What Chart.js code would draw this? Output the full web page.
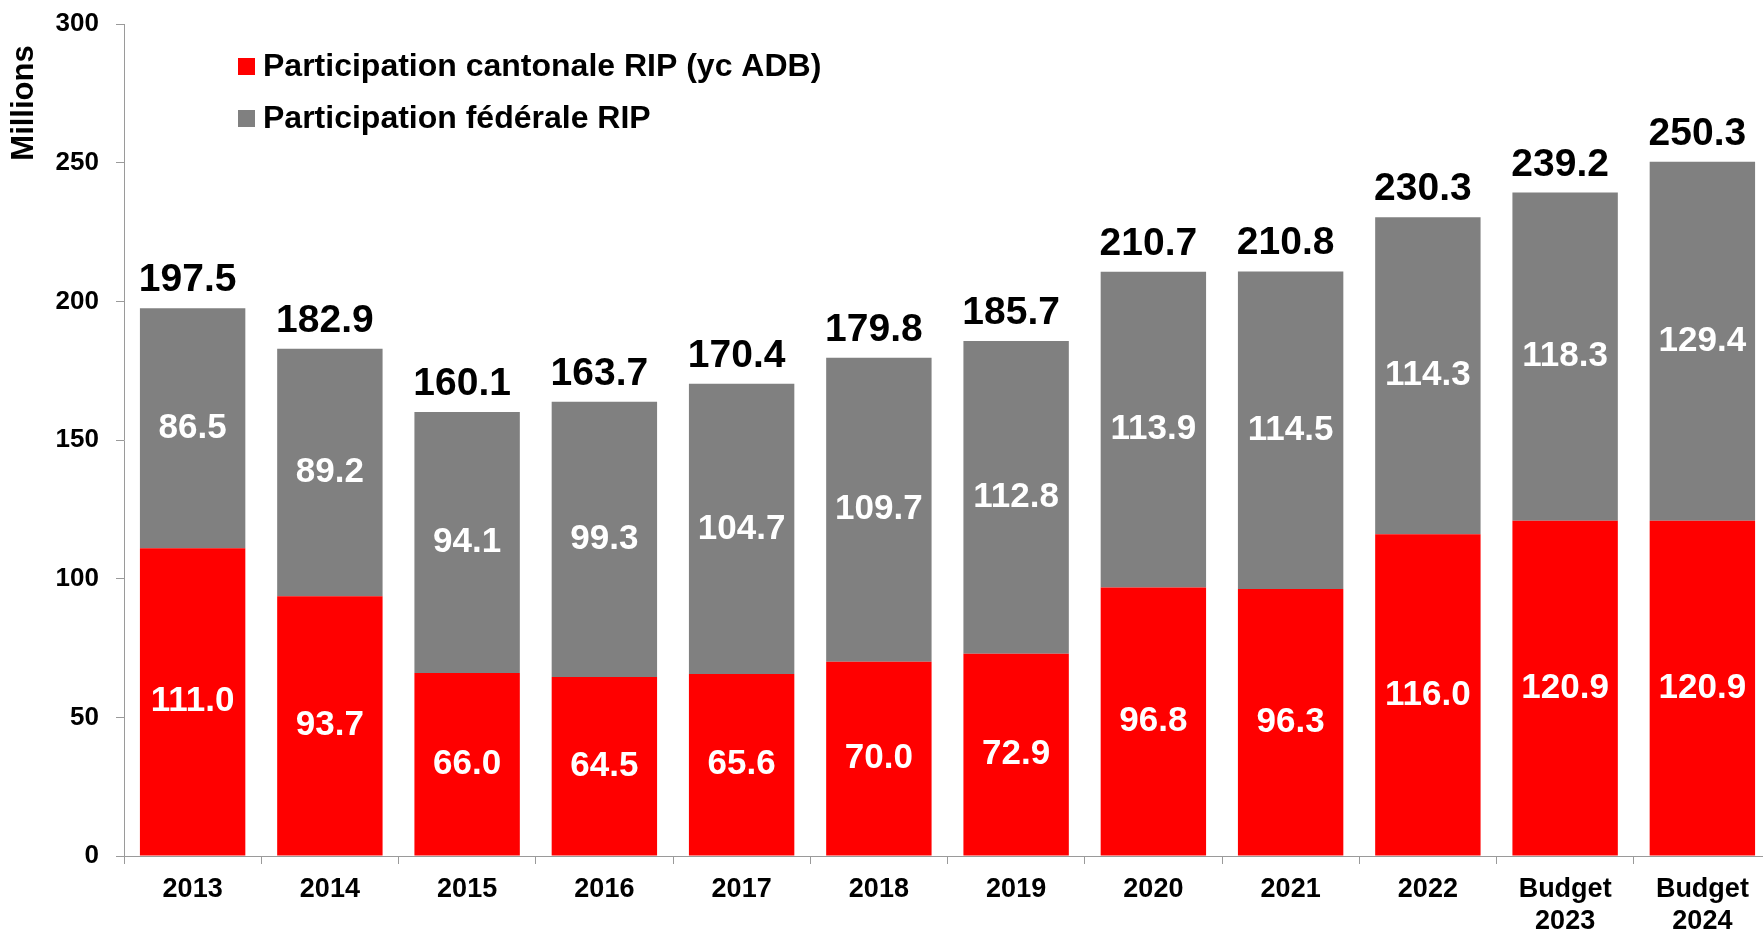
<!DOCTYPE html>
<html><head><meta charset="utf-8">
<script src="https://cdn.jsdelivr.net/npm/chart.js@4/dist/chart.umd.min.js"></script>
<style>
html,body{margin:0;padding:0;background:#fff;overflow:hidden;width:1763px;height:930px;}
#wrap{position:absolute;left:0;top:0;width:1800px;height:930px;}
canvas{display:block;}
</style></head><body>
<div id="wrap"><canvas id="c" width="1800" height="930"></canvas></div>
<script>
const categories = ["2013","2014","2015","2016","2017","2018","2019","2020","2021","2022",["Budget","2023"],["Budget","2024"]];
const seriesNames = ["Participation cantonale RIP (yc ADB)","Participation fédérale RIP"];
const seriesColors = ["#FF0000","#808080"];
const cantonale = [111.0,93.7,66.0,64.5,65.6,70.0,72.9,96.8,96.3,116.0,120.9,120.9];
const federale = [86.5,89.2,94.1,99.3,104.7,109.7,112.8,113.9,114.5,114.3,118.3,129.4];
const totals = [197.5,182.9,160.1,163.7,170.4,179.8,185.7,210.7,210.8,230.3,239.2,250.3];
const yTickValues = [0,50,100,150,200,250,300];
const yAxisTitle = "Millions";

const FONT = "'Liberation Sans', Arial, sans-serif";
const AXIS = "#9a9a9a";

const labelPlugin = {
  id: 'labelsAndLegend',
  afterDatasetsDraw(chart) {
    const ctx = chart.ctx;
    ctx.save();
    chart.data.datasets.forEach((ds, i) => {
      const meta = chart.getDatasetMeta(i);
      meta.data.forEach((el, j) => {
        const p = el.getProps(['x','y','base'], true);
        ctx.font = "bold 35px " + FONT;
        ctx.fillStyle = "#ffffff";
        ctx.textAlign = "center";
        ctx.textBaseline = "middle";
        ctx.fillText(ds.data[j].toFixed(1), p.x, (p.y + p.base) / 2);
      });
    });
    const topMeta = chart.getDatasetMeta(chart.data.datasets.length - 1);
    topMeta.data.forEach((el, j) => {
      const p = el.getProps(['x','y'], true);
      ctx.font = "bold 39px " + FONT;
      ctx.fillStyle = "#000000";
      ctx.textAlign = "center";
      ctx.textBaseline = "alphabetic";
      ctx.fillText(totals[j].toFixed(1), p.x - 5, p.y - 17);
    });
    ctx.restore();
  },
  afterDraw(chart) {
    const ctx = chart.ctx;
    const area = chart.chartArea;
    ctx.save();
    const rows = [58, 110];
    seriesNames.forEach((name, i) => {
      ctx.fillStyle = seriesColors[i];
      ctx.fillRect(area.left + 114, rows[i], 17, 17);
      ctx.fillStyle = "#000000";
      ctx.font = "bold 32px " + FONT;
      ctx.textAlign = "left";
      ctx.textBaseline = "alphabetic";
      ctx.fillText(name, area.left + 139, rows[i] + 18);
    });
    ctx.translate(33, 103);
    ctx.rotate(-Math.PI / 2);
    ctx.font = "bold 31px " + FONT;
    ctx.fillStyle = "#000000";
    ctx.textAlign = "center";
    ctx.textBaseline = "alphabetic";
    ctx.fillText(yAxisTitle, 0, 0);
    ctx.restore();
  }
};

new Chart(document.getElementById('c'), {
  type: 'bar',
  data: {
    labels: categories,
    datasets: [
      { label: seriesNames[0], data: cantonale, backgroundColor: seriesColors[0], barPercentage: 0.768, categoryPercentage: 1.0, borderWidth: 0 },
      { label: seriesNames[1], data: federale, backgroundColor: seriesColors[1], barPercentage: 0.768, categoryPercentage: 1.0, borderWidth: 0 }
    ]
  },
  options: {
    responsive: false,
    animation: false,
    devicePixelRatio: 1,
    layout: { padding: { left: 0, top: 24, right: 29, bottom: 0 } },
    plugins: { legend: { display: false }, tooltip: { enabled: false }, title: { display: false } },
    scales: {
      x: {
        stacked: true,
        grid: { display: true, drawOnChartArea: false, drawTicks: true, tickLength: 8, color: AXIS, offset: true },
        border: { display: true, color: AXIS, width: 1 },
        ticks: { color: "#000000", font: { family: FONT, size: 27, weight: 'bold', lineHeight: 1.2 }, padding: 9, maxRotation: 0, autoSkip: false },
        afterFit(scale) { scale.height = 74; }
      },
      y: {
        stacked: true,
        min: 0, max: 300,
        afterBuildTicks(scale) { scale.ticks = yTickValues.map(v => ({ value: v })); },
        grid: { display: true, drawOnChartArea: false, drawTicks: true, tickLength: 8, color: AXIS },
        border: { display: true, color: AXIS, width: 1 },
        ticks: { color: "#000000", font: { family: FONT, size: 26, weight: 'bold' }, padding: 17 },
        afterFit(scale) { scale.width = 124; scale.paddingTop = 0; scale.paddingBottom = 0; }
      }
    }
  },
  plugins: [labelPlugin]
});
</script>
</body></html>
